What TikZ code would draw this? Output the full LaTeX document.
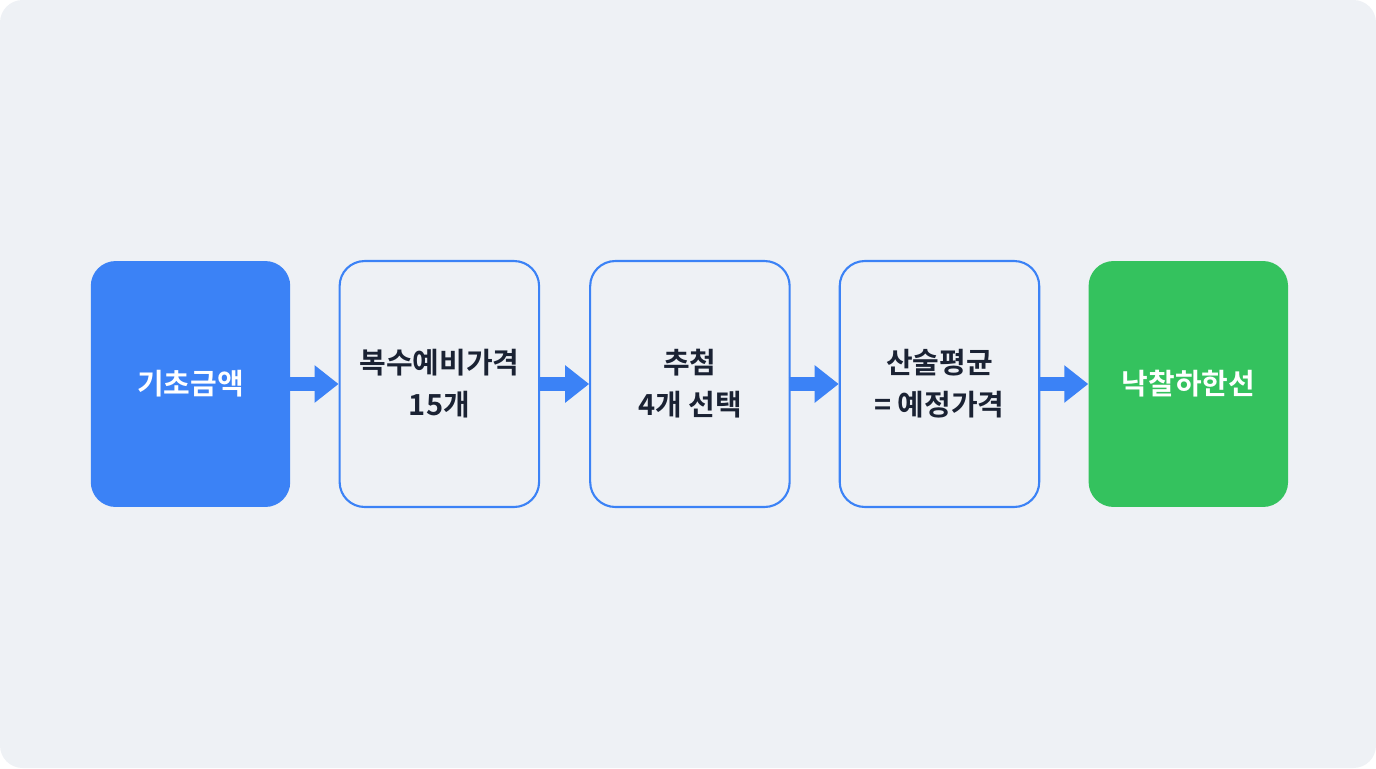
\documentclass[tikz,border=0pt]{standalone}
\usepackage{fontspec}
\setmainfont{Noto Sans CJK KR}[BoldFont={* Bold}]
\usetikzlibrary{positioning, arrows.meta}

\definecolor{bgGray}{HTML}{EEF1F5}
\definecolor{stepBlue}{HTML}{3B82F6}
\definecolor{stepGreen}{HTML}{34C25E}
\definecolor{textDark}{HTML}{1A2233}

\tikzset{
  stage/.style={rectangle, rounded corners=0.5cm, minimum width=3.99cm, minimum height=4.92cm,
    align=center, font=\fontsize{16.5}{24}\selectfont\bfseries, text=textDark},
  outlined/.style={stage, draw=stepBlue, line width=1.2pt, fill=bgGray},
  flow/.style={draw=stepBlue, line width=0.28cm, -{Triangle[length=0.48cm, width=0.72cm]}, shorten <=-1pt}
}

\begin{document}
\begin{tikzpicture}[x=0.02cm, y=-0.02cm]
\fill[bgGray, rounded corners=0.45cm] (0,0) rectangle (1376,768);
\useasboundingbox (0,0) rectangle (1376,768);

\node[stage, fill=stepBlue, text=white] (base) at (190.5,384) {기초금액};
\node[outlined, right=0.96cm of base] (prelim) {복수예비가격\\15개};
\node[outlined, right=0.98cm of prelim] (draw) {추첨\\4개 선택};
\node[outlined, right=0.96cm of draw] (avg) {산술평균\\= 예정가격};
\node[stage, fill=stepGreen, text=white, right=0.96cm of avg] (award) {낙찰하한선};

\draw[flow] (base) -- (prelim);
\draw[flow] (prelim) -- (draw);
\draw[flow] (draw) -- (avg);
\draw[flow] (avg) -- (award);

\end{tikzpicture}
\end{document}
